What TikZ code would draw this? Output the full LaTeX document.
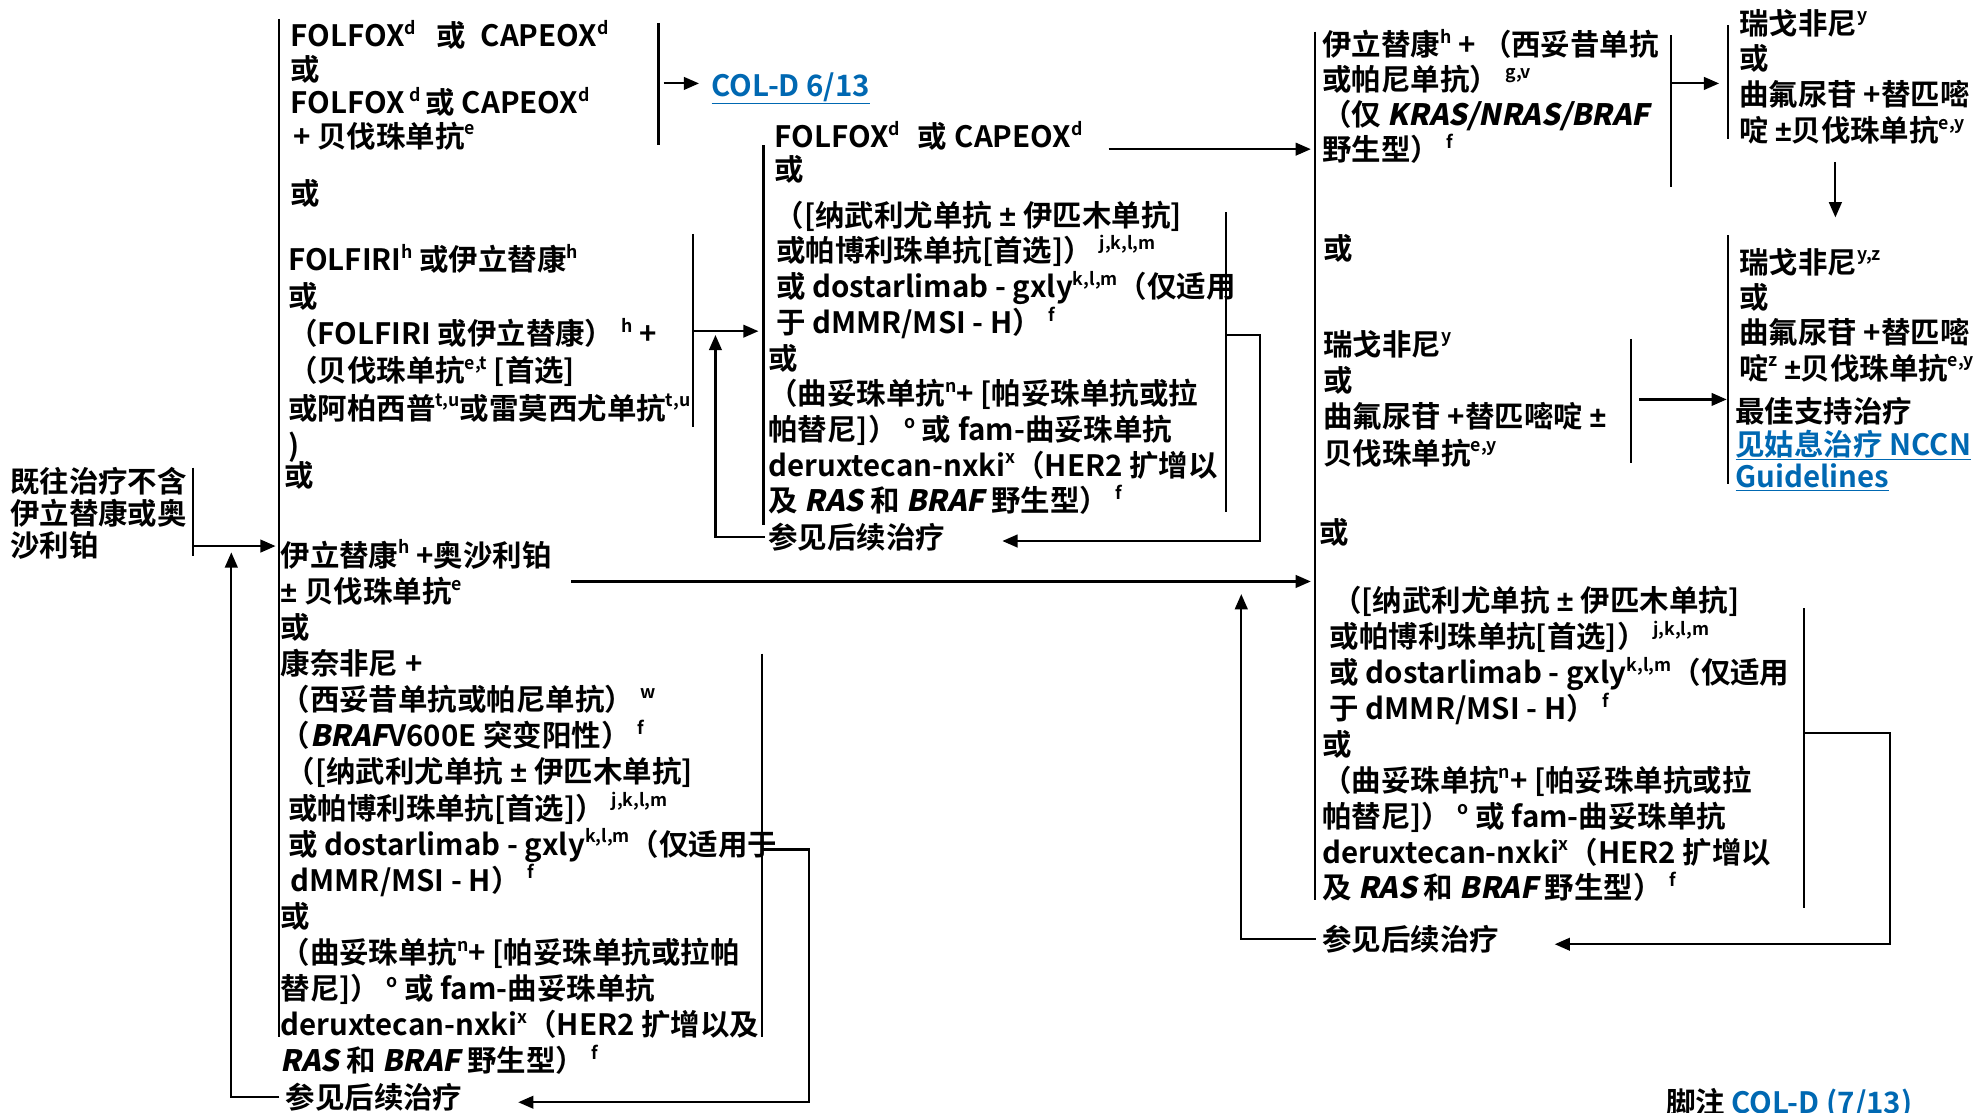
\documentclass[tikz,border=0pt]{standalone}
\usepackage{fontspec}
\setmainfont{Noto Sans CJK SC}[BoldFont={* Bold}]
\newfontfamily\itf{Noto Sans CJK SC Bold}[FakeSlant=0.2]
\newfontfamily\latf{Liberation Sans}
\usetikzlibrary{arrows.meta}
\definecolor{linkblue}{RGB}{0,104,178}
\newcommand\su[1]{\raisebox{0.42em}{\fontsize{14}{14}\selectfont #1}}
\newcommand\ii[1]{{\itf #1}}
\newcommand\pmn{{\latf\bfseries ±}}
\newcommand\lns[2]{\vtop{\baselineskip=#1\lineskiplimit=-1000pt\lineskip=0pt\halign{##\hfil\cr#2\crcr}}}
\begin{document}
\begin{tikzpicture}[x=1pt,y=-1pt,line width=1.7pt,
  txt/.style={anchor=base west,inner sep=0pt,outer sep=0pt,font=\bfseries\fontsize{23.3}{28}\selectfont},
  lnk/.style={txt,text=linkblue},
  arr/.style={-{Triangle[length=12pt,width=10pt]}}]
\useasboundingbox (0,0) rectangle (1568,880);
% ---------- text blocks ----------
\node[txt] (prior) at (8,390) {\lns{25pt}{既往治疗不含\cr 伊立替康或奥\cr 沙利铂}};
\node[txt] (fox) at (230,37) {\lns{26.5pt}{FOLFOX\su{d}\hskip16pt 或\hskip12pt CAPEOX\su{d}\cr 或\cr FOLFOX\,\su{d}\hskip4pt 或 CAPEOX\su{d}\cr \hskip2pt+ 贝伐珠单抗\su{e}}};
\node[lnk] (col6) at (563,76) {\underline{COL-D 6/13}};
\node[txt] (or1) at (230,162) {或};
\node[txt] (iri) at (228,214) {\lns{29.4pt}{FOLFIRI\su{h} 或伊立替康\su{h}\cr 或\cr （FOLFIRI 或伊立替康） \su{h} +\cr （贝伐珠单抗\su{e,t} [首选]\cr 或阿柏西普\su{t,u}或雷莫西尤单抗\su{t,u}\cr )}};
\node[txt] (or2) at (225,385) {或};
\node[txt] (irox) at (222,448) {\lns{28.57pt}{伊立替康\su{h} +奥沙利铂\cr
\pmn\hskip6pt 贝伐珠单抗\su{e}\cr
或\cr
康奈非尼 +\cr
（西妥昔单抗或帕尼单抗） \su{w}\cr
（\ii{BRAF}V600E 突变阳性） \su{f}\cr
\hskip4pt（[纳武利尤单抗\hskip6pt\pmn\hskip6pt伊匹木单抗]\cr
\hskip6pt或帕博利珠单抗[首选]） \su{j,k,l,m}\cr
\hskip6pt或 dostarlimab - gxly\su{k,l,m}（仅适用于\cr
\hskip8pt dMMR/MSI - H） \su{f}\cr
或\cr
（曲妥珠单抗\su{n}+ [帕妥珠单抗或拉帕\cr
替尼]） \su{o} 或 fam-曲妥珠单抗\cr
deruxtecan-nxki\su{x}（HER2 扩增以及\cr
\ii{RAS} 和 \ii{BRAF} 野生型） \su{f}}};
\node[txt] (seeC) at (226,877) {参见后续治疗};
\node[txt] (midfox) at (613,117) {\lns{26pt}{FOLFOX\su{d}\hskip14pt 或\hskip6pt CAPEOX\su{d}\cr 或}};
\node[txt] (midimm) at (608,179) {\lns{28.25pt}{\hskip5pt（[纳武利尤单抗\hskip6pt\pmn\hskip6pt伊匹木单抗]\cr
\hskip6pt或帕博利珠单抗[首选]） \su{j,k,l,m}\cr
\hskip6pt或 dostarlimab - gxly\su{k,l,m}（仅适用\cr
\hskip6pt于 dMMR/MSI - H） \su{f}\cr
或\cr
（曲妥珠单抗\su{n}+ [帕妥珠单抗或拉\cr
帕替尼]） \su{o} 或 fam-曲妥珠单抗\cr
deruxtecan-nxki\su{x}（HER2 扩增以\cr
及 \ii{RAS} 和 \ii{BRAF} 野生型） \su{f}}};
\node[txt] (seeD) at (608,434) {参见后续治疗};
\node[txt] (cetux) at (1046,44) {\lns{27.7pt}{伊立替康\su{h} + （西妥昔单抗\cr 或帕尼单抗） \su{g,v}\cr （仅 \ii{KRAS/NRAS/BRAF}\cr 野生型） \su{f}}};
\node[txt] (or3) at (1047,205) {或};
\node[txt] (rego1) at (1047,281) {\lns{28.7pt}{瑞戈非尼\su{y}\cr 或\cr 曲氟尿苷 +替匹嘧啶 \pmn\cr 贝伐珠单抗\su{e,y}}};
\node[txt] (or4) at (1044,430) {或};
\node[txt] (immR) at (1046,484) {\lns{28.4pt}{\hskip8pt（[纳武利尤单抗\hskip6pt\pmn\hskip6pt伊匹木单抗]\cr
\hskip6pt或帕博利珠单抗[首选]） \su{j,k,l,m}\cr
\hskip6pt或 dostarlimab - gxly\su{k,l,m}（仅适用\cr
\hskip6pt于 dMMR/MSI - H） \su{f}\cr
或\cr
（曲妥珠单抗\su{n}+ [帕妥珠单抗或拉\cr
帕替尼]） \su{o} 或 fam-曲妥珠单抗\cr
deruxtecan-nxki\su{x}（HER2 扩增以\cr
及 \ii{RAS} 和 \ii{BRAF} 野生型） \su{f}}};
\node[txt] (seeG) at (1046,752) {参见后续治疗};
\node[txt] (rego2) at (1376,27) {\lns{28.3pt}{瑞戈非尼\su{y}\cr 或\cr 曲氟尿苷 +替匹嘧\cr 啶 \pmn 贝伐珠单抗\su{e,y}}};
\node[txt] (rego3) at (1376,216) {\lns{28pt}{瑞戈非尼\su{y,z}\cr 或\cr 曲氟尿苷 +替匹嘧\cr 啶\su{z} \pmn 贝伐珠单抗\su{e,y}}};
\node[txt] (bsc) at (1373,334) {最佳支持治疗};
\node[lnk] (pall) at (1373,360) {\lns{26pt}{\underline{见姑息治疗 NCCN}\cr \underline{Guidelines}}};
\node[txt] (foot) at (1318,881) {脚注 \textcolor{linkblue}{COL-D (7/13)}};
% ---------- bracket bars ----------
\draw (153,370) -- (153,440);
\draw (221,15) -- (221,820);
\draw (521,18) -- (521,115);
\draw (548,185) -- (548,338);
\draw (603,517) -- (603,820);
\draw (604,115) -- (604,415);
\draw (970,168) -- (970,405);
\draw (1040,25) -- (1040,712);
\draw (1322,28) -- (1322,148);
\draw (1290,268) -- (1290,366);
\draw (1427,481) -- (1427,718);
\draw (1367,20) -- (1367,110);
\draw (1367,186) -- (1367,383);
% ---------- connector coordinates ----------
\coordinate (pL) at (153,432);   \coordinate (inC) at (218,432);
\coordinate (upC) at (183,437);
\coordinate (aA) at (525,66);    \coordinate (aE) at (553,66);
\coordinate (bB) at (548,262);   \coordinate (inD) at (600,262);
\coordinate (upD) at (566,265);
\coordinate (cC) at (603,672);   \coordinate (cC2) at (640,872); \coordinate (tipC) at (410,872);
\coordinate (longS) at (452,460); \coordinate (longE) at (1037,460);
\coordinate (foxS) at (877,118);  \coordinate (foxE) at (1037,118);
\coordinate (dR) at (970,265);   \coordinate (dR2) at (997,428); \coordinate (tipD) at (793,428);
\coordinate (eR) at (1322,66);   \coordinate (eE) at (1360,66);
\coordinate (fR) at (1297,316);  \coordinate (fE) at (1366,316);
\coordinate (upG) at (982,470);
\coordinate (gR) at (1427,580);  \coordinate (gR2) at (1495,747); \coordinate (tipG) at (1230,747);
\coordinate (hD) at (1452,128);  \coordinate (hE) at (1452,172);
% ---------- connectors ----------
\draw[arr] (pL) -- (inC);
\draw[arr] ([xshift=-5pt]seeC.west) -| (upC);
\draw[arr] (aA) -- (aE);
\draw[arr] (bB) -- (inD);
\draw[arr] ([xshift=-3pt]seeD.west) -| (upD);
\draw[arr] (cC) -| (cC2) -- (tipC);
\draw[arr] (longS) -- (longE);
\draw[arr] (foxS) -- (foxE);
\draw[arr] (dR) -| (dR2) -- (tipD);
\draw[arr] (eR) -- (eE);
\draw[arr] (fR) -- (fE);
\draw[arr] ([xshift=-5pt]seeG.west) -| (upG);
\draw[arr] (gR) -| (gR2) -- (tipG);
\draw[arr] (hD) -- (hE);
\end{tikzpicture}
\end{document}
